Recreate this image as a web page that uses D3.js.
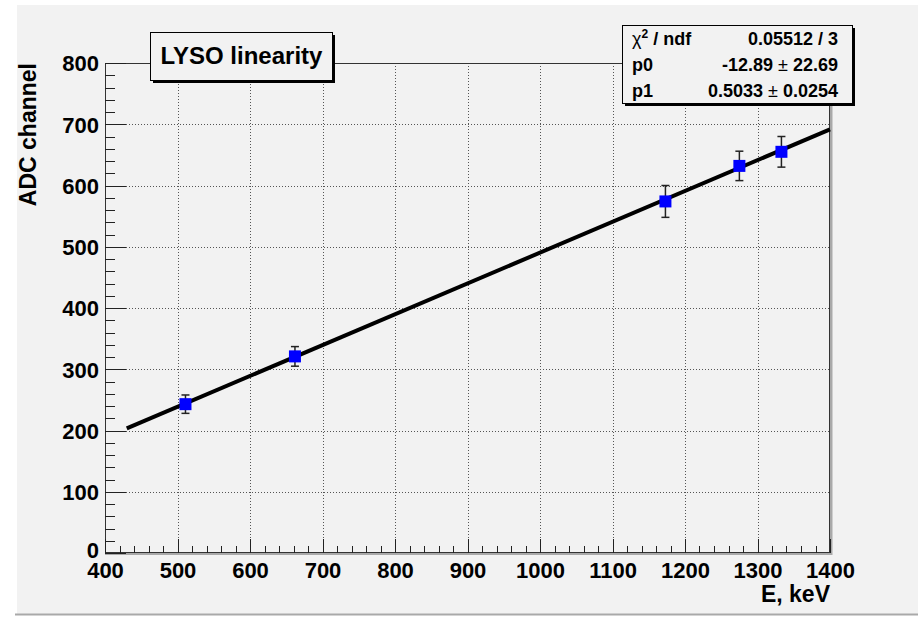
<!DOCTYPE html>
<html>
<head>
<meta charset="utf-8">
<script src="https://cdn.jsdelivr.net/npm/d3@7"></script>
<style>
  html, body { margin: 0; padding: 0; background: #ffffff; }
  svg { display: block; }
  text { font-family: "Liberation Sans", Arial, Helvetica, sans-serif; font-weight: bold; fill: #000; }
</style>
</head>
<body>
<svg id="chart" width="918" height="619"></svg>
<script>
// Calibration points: gamma line energy (keV) vs. measured ADC peak position
const energies = [511, 662, 1173, 1275, 1333];
const adcValues = [243, 321, 574, 632, 655];
const adcErrors = [15, 16, 26, 24, 25];

// Linear fit result  ADC = p0 + p1 * E
const fitP0 = -12.89;
const fitP1 = 0.5033;
const fitRange = [430, 1400];

const statsRows = [
  { name: "χ2 / ndf", value: "0.05512 / 3" },
  { name: "p0", value: "-12.89 ± 22.69" },
  { name: "p1", value: "0.5033 ± 0.0254" }
];

const xTicks = [400, 500, 600, 700, 800, 900, 1000, 1100, 1200, 1300, 1400];
const yTicks = [0, 100, 200, 300, 400, 500, 600, 700, 800];

const titleText = "LYSO linearity";
const xTitle = "E, keV";
const yTitle = "ADC channel";

const svg = d3.select("#chart");
const padColor = "#f2f2f2";

// canvas pad
svg.append("rect").attr("x", 17).attr("y", 5).attr("width", 901).attr("height", 609).attr("fill", padColor);
svg.append("line").attr("x1", 15).attr("x2", 918).attr("y1", 614.5).attr("y2", 614.5)
  .attr("stroke", "#a9a9a9").attr("stroke-width", 2);

const frame = { left: 105, right: 830, top: 63, bottom: 553 };
const x = d3.scaleLinear().domain([400, 1400]).range([frame.left, frame.right]);
const y = d3.scaleLinear().domain([0, 800]).range([frame.bottom, frame.top]);

const plot = svg.append("g");

// grid
plot.append("g").selectAll("line").data(xTicks.slice(1, -1)).join("line")
  .attr("x1", d => Math.round(x(d)) + 0.5).attr("x2", d => Math.round(x(d)) + 0.5)
  .attr("y1", frame.top).attr("y2", frame.bottom)
  .attr("stroke", "#555").attr("stroke-width", 1).attr("stroke-dasharray", "1,2");
plot.append("g").selectAll("line").data(yTicks.slice(1, -1)).join("line")
  .attr("y1", d => Math.round(y(d)) + 0.5).attr("y2", d => Math.round(y(d)) + 0.5)
  .attr("x1", frame.left).attr("x2", frame.right)
  .attr("stroke", "#555").attr("stroke-width", 1).attr("stroke-dasharray", "1,2");

// frame border: bevel on right and bottom
plot.append("line").attr("x1", frame.right + 1).attr("x2", frame.right + 1)
  .attr("y1", frame.top).attr("y2", frame.bottom + 2).attr("stroke", "#a9a9a9").attr("stroke-width", 3);
plot.append("line").attr("x1", frame.left).attr("x2", frame.right + 2)
  .attr("y1", frame.bottom + 1).attr("y2", frame.bottom + 1).attr("stroke", "#a9a9a9").attr("stroke-width", 2);
plot.append("rect").attr("x", frame.left + 0.5).attr("y", frame.top + 0.5)
  .attr("width", frame.right - frame.left - 1).attr("height", frame.bottom - frame.top - 1)
  .attr("fill", "none").attr("stroke", "#333").attr("stroke-width", 1);

const tickFont = "22px";

// x axis ticks (major 100, minor 20)
const xAxis = d3.axisBottom(x).tickValues(xTicks).tickSize(0).tickFormat(d3.format("d"));
const xMinor = d3.range(400, 1401, 20);
plot.append("g").selectAll("line").data(xMinor).join("line")
  .attr("x1", d => Math.round(x(d)) + 0.5).attr("x2", d => Math.round(x(d)) + 0.5)
  .attr("y1", frame.bottom).attr("y2", d => frame.bottom - (d % 100 === 0 ? 14 : 7))
  .attr("stroke", "#222").attr("stroke-width", 1);
const gx = plot.append("g").attr("transform", `translate(0,${frame.bottom})`).call(xAxis);
gx.select(".domain").remove();
gx.selectAll("text").attr("dy", null).attr("y", 25).style("font-size", tickFont)
  .style("font-family", "'Liberation Sans', Arial, sans-serif").style("font-weight", "bold").attr("fill", "#000");

// y axis ticks
const yAxis = d3.axisLeft(y).tickValues(yTicks).tickSize(0).tickFormat(d3.format("d"));
const yMinor = d3.range(0, 801, 20);
plot.append("g").selectAll("line").data(yMinor).join("line")
  .attr("y1", d => Math.round(y(d)) + 0.5).attr("y2", d => Math.round(y(d)) + 0.5)
  .attr("x1", frame.left).attr("x2", d => frame.left + (d % 100 === 0 ? 21 : 10))
  .attr("stroke", "#222").attr("stroke-width", 1);
const gy = plot.append("g").attr("transform", `translate(${frame.left},0)`).call(yAxis);
gy.select(".domain").remove();
gy.selectAll("text").attr("x", -6).attr("dy", d => d === 0 ? "0.2em" : "0.36em").style("font-size", tickFont)
  .style("font-family", "'Liberation Sans', Arial, sans-serif").style("font-weight", "bold").attr("fill", "#000");

// axis titles
svg.append("text").attr("x", frame.right).attr("y", 602).attr("text-anchor", "end")
  .style("font-size", "23px").text(xTitle);
svg.append("text").attr("transform", `translate(36,${frame.top}) rotate(-90)`).attr("text-anchor", "end")
  .style("font-size", "23px").text(yTitle);

// fit line
const fitLine = d3.line().x(d => x(d)).y(d => y(fitP0 + fitP1 * d));
plot.append("path").datum(fitRange).attr("d", fitLine)
  .attr("stroke", "#000").attr("stroke-width", 4).attr("fill", "none");

// data points with error bars
const pts = energies.map((e, i) => ({ e, v: adcValues[i], err: adcErrors[i] }));
const pg = plot.append("g").selectAll("g").data(pts).join("g");
pg.append("line").attr("x1", d => x(d.e)).attr("x2", d => x(d.e))
  .attr("y1", d => y(d.v + d.err)).attr("y2", d => y(d.v - d.err))
  .attr("stroke", "#222").attr("stroke-width", 1.5);
pg.append("line").attr("x1", d => x(d.e) - 4).attr("x2", d => x(d.e) + 4)
  .attr("y1", d => y(d.v + d.err)).attr("y2", d => y(d.v + d.err)).attr("stroke", "#222").attr("stroke-width", 1.5);
pg.append("line").attr("x1", d => x(d.e) - 4).attr("x2", d => x(d.e) + 4)
  .attr("y1", d => y(d.v - d.err)).attr("y2", d => y(d.v - d.err)).attr("stroke", "#222").attr("stroke-width", 1.5);
pg.append("rect").attr("x", d => x(d.e) - 6).attr("y", d => y(d.v) - 6)
  .attr("width", 12).attr("height", 12).attr("fill", "#0000ff");

// title box
const tb = { x: 150, y: 32, w: 182, h: 48 };
svg.append("rect").attr("x", tb.x + 3).attr("y", tb.y + 3).attr("width", tb.w).attr("height", tb.h).attr("fill", "#000");
svg.append("rect").attr("x", tb.x + 0.5).attr("y", tb.y + 0.5).attr("width", tb.w).attr("height", tb.h)
  .attr("fill", padColor).attr("stroke", "#000").attr("stroke-width", 1);
svg.append("text").attr("x", tb.x + tb.w / 2 + 0.5).attr("y", 64).attr("text-anchor", "middle")
  .style("font-size", "24px").text(titleText);

// statistics box
const sb = { x: 622, y: 25, w: 230, h: 78 };
svg.append("rect").attr("x", sb.x + 3).attr("y", sb.y + 3).attr("width", sb.w).attr("height", sb.h).attr("fill", "#000");
svg.append("rect").attr("x", sb.x + 0.5).attr("y", sb.y + 0.5).attr("width", sb.w).attr("height", sb.h)
  .attr("fill", padColor).attr("stroke", "#000").attr("stroke-width", 1);
const baselines = [45, 71, 97];
statsRows.forEach((r, i) => {
  const t = svg.append("text").attr("x", 632).attr("y", baselines[i]).style("font-size", "18px");
  if (r.name.startsWith("χ2")) {
    t.append("tspan").text("χ").style("font-weight", "normal");
    t.append("tspan").text("2").attr("dy", -7).style("font-size", "12px");
    t.append("tspan").text(" / ndf").attr("dy", 7);
  } else {
    t.text(r.name);
  }
  const v = svg.append("text").attr("x", 838).attr("y", baselines[i]).attr("text-anchor", "end").style("font-size", "18px");
  const parts = r.value.split("±");
  v.append("tspan").text(parts[0]);
  if (parts.length > 1) {
    v.append("tspan").text("±").style("font-weight", "normal");
    v.append("tspan").text(parts[1]);
  }
});
</script>
</body>
</html>
